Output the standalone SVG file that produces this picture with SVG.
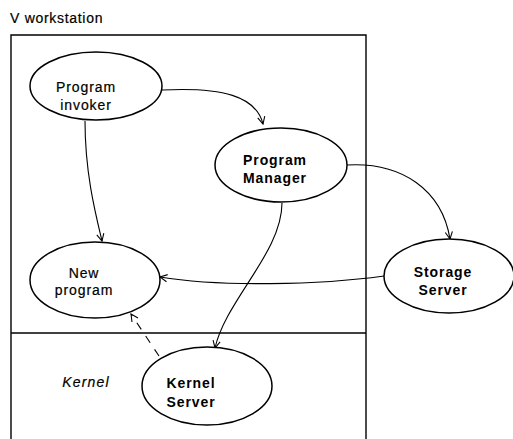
<svg xmlns="http://www.w3.org/2000/svg" width="513" height="439" viewBox="0 0 513 439">
  <style>
    .frame { fill: none; stroke: #000; stroke-width: 1.4; }
    .node ellipse { fill: #fff; stroke: #000; stroke-width: 1.5; }
    .lbl { font-family: "Liberation Sans", Arial, sans-serif; font-size: 14px; fill: #000; letter-spacing: 0.9px; text-anchor: middle; }
    .med { stroke: #000; stroke-width: 0.2; }
    .bold { font-weight: bold; }
    .edge { fill: none; stroke: #000; stroke-width: 1.1; }
    .dash { stroke-dasharray: 8 8; }
  </style>
  <defs>
    <marker id="arrow" viewBox="0 0 10 10" refX="9" refY="5" markerWidth="9" markerHeight="9" orient="auto" markerUnits="userSpaceOnUse">
      <path d="M1,1 L9,5 L1,9" fill="none" stroke="#000" stroke-width="1.2"/>
    </marker>
  </defs>
  <rect width="513" height="439" fill="#fff"/>

  <!-- workstation frame and kernel divider -->
  <g id="frame">
    <text class="lbl med" x="10" y="23" style="text-anchor:start;letter-spacing:0.7px">V workstation</text>
    <path class="frame" d="M11,439 V35 H366 V439"/>
    <path class="frame" d="M11,333 H366"/>
    <text class="lbl med" x="86" y="387" font-style="italic" style="letter-spacing:1.2px">Kernel</text>
  </g>

  <!-- connectors -->
  <g id="connectors">
    <path class="edge" marker-end="url(#arrow)" d="M162,90 C222,87 256,96 263,124"/>
    <path class="edge" marker-end="url(#arrow)" d="M85,121 C85,172 95,212 102,241"/>
    <path class="edge" marker-end="url(#arrow)" d="M347,165 C402,162 442,190 450,239"/>
    <path class="edge" marker-end="url(#arrow)" d="M384,276 C320,285 220,287 160,277"/>
    <path class="edge" marker-end="url(#arrow)" d="M282,203 C282,252 226,300 215,348"/>
    <path class="edge dash" marker-end="url(#arrow)" d="M159,356 L131,314"/>
  </g>

  <g id="program-invoker" class="node">
    <ellipse cx="96" cy="86" rx="66" ry="34"/>
    <text class="lbl med" x="86" y="92">Program</text>
    <text class="lbl med" x="86" y="110">invoker</text>
  </g>

  <g id="program-manager" class="node">
    <ellipse cx="281" cy="165" rx="66" ry="37"/>
    <text class="lbl bold" x="275" y="165">Program</text>
    <text class="lbl bold" x="275" y="183">Manager</text>
  </g>

  <g id="storage-server" class="node">
    <ellipse cx="449" cy="276" rx="65" ry="37"/>
    <text class="lbl bold" x="443" y="277">Storage</text>
    <text class="lbl bold" x="443" y="295">Server</text>
  </g>

  <g id="new-program" class="node">
    <ellipse cx="95" cy="280" rx="65" ry="38"/>
    <text class="lbl med" x="84" y="278">New</text>
    <text class="lbl med" x="84" y="295">program</text>
  </g>

  <g id="kernel-server" class="node">
    <ellipse cx="207" cy="386" rx="65" ry="39"/>
    <text class="lbl bold" x="191" y="388">Kernel</text>
    <text class="lbl bold" x="191" y="407">Server</text>
  </g>
</svg>
